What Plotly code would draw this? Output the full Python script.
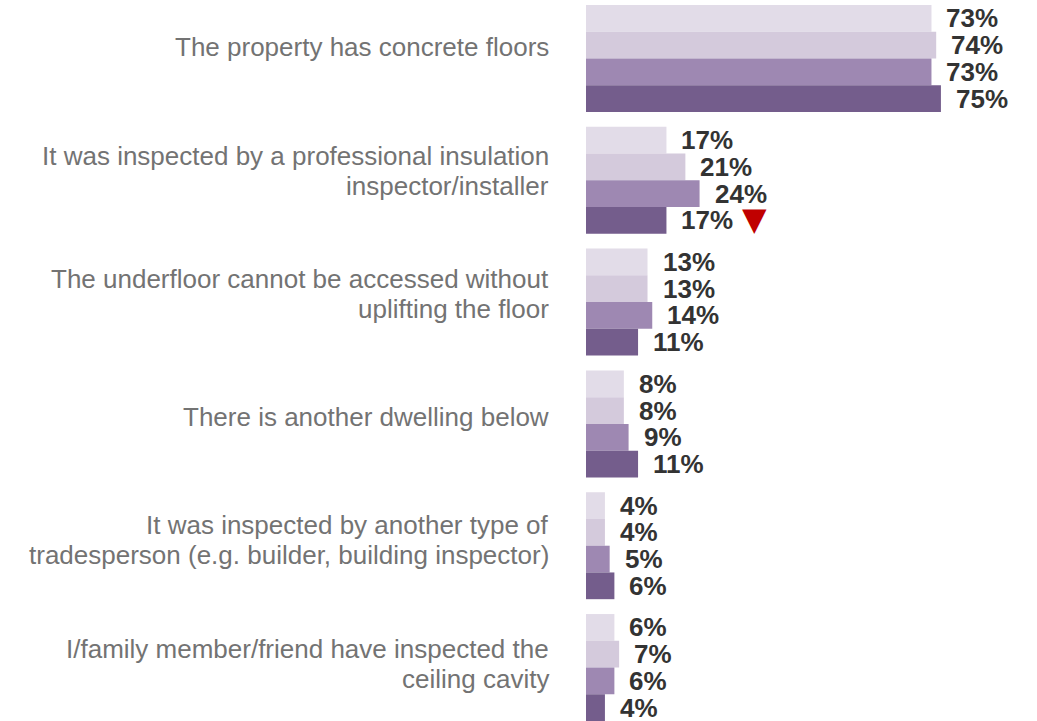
import plotly.graph_objects as go

categories = [
    "The property has concrete floors",
    "It was inspected by a professional insulation<br>inspector/installer",
    "The underfloor cannot be accessed without<br>uplifting the floor",
    "There is another dwelling below",
    "It was inspected by another type of<br>tradesperson (e.g. builder, building inspector)",
    "I/family member/friend have inspected the<br>ceiling cavity",
]
series_names = ["Wave 1", "Wave 2", "Wave 3", "Wave 4"]
values = [
    [73, 17, 13, 8, 4, 6],
    [74, 21, 13, 8, 4, 7],
    [73, 24, 14, 9, 5, 6],
    [75, 17, 11, 11, 6, 4],
]
colors = ["#E2DCE8", "#D4CADC", "#9E88B2", "#745D8C"]
# significant decrease markers: (series index, category index)
sig_down = [(3, 1)]

bargap = 0.122
n_series = len(series_names)
bar_w = (1 - bargap) / n_series
pos = list(range(len(categories)))

fig = go.Figure()
for s, name in enumerate(series_names):
    fig.add_trace(go.Bar(
        y=pos, x=values[s], orientation="h", name=name,
        marker=dict(color=colors[s], line=dict(width=0)),
        hoverinfo="x+name",
    ))

annotations = []
# value labels
for s in range(n_series):
    off = -(1 - bargap) / 2 + bar_w * (s + 0.5)
    for c in pos:
        annotations.append(dict(
            x=values[s][c], y=c + off, xref="x", yref="y",
            text="<b>%d%%</b>" % values[s][c], showarrow=False,
            xanchor="left", yanchor="middle", xshift=13,
            font=dict(family="Liberation Sans, Arial", size=26, color="#333333"),
        ))
# significance arrows
for s, c in sig_down:
    off = -(1 - bargap) / 2 + bar_w * (s + 0.5)
    annotations.append(dict(
        x=values[s][c], y=c + off, xref="x", yref="y",
        text="▼", showarrow=False, xanchor="center", yanchor="middle",
        xshift=88, yshift=1, font=dict(family="DejaVu Sans", size=32, color="#C00000"),
    ))
# category labels, one annotation per line for tighter line spacing
line_h = 30
for c, lab in enumerate(categories):
    lines = lab.split("<br>")
    base = 11 - 1.4 * c
    for k, ln in enumerate(lines):
        shift = base + line_h * ((len(lines) - 1) / 2 - k)
        annotations.append(dict(
            x=0, y=c, xref="paper", yref="y", text=ln, showarrow=False,
            xanchor="right", yanchor="middle", align="right", xshift=-35, yshift=shift,
            font=dict(family="Liberation Sans, Arial", size=26, color="#737373"),
        ))

fig.update_layout(
    barmode="group", bargap=bargap, bargroupgap=0,
    width=1037, height=721,
    margin=dict(l=586, r=0, t=0, b=0),
    plot_bgcolor="white", paper_bgcolor="white",
    showlegend=False, annotations=annotations,
    xaxis=dict(range=[0, 95.3], visible=False),
    yaxis=dict(range=[5.439, -0.480], visible=False),
)

fig.write_html("out.html", config={"displayModeBar": False},
               post_script="document.body.style.margin='0';")
